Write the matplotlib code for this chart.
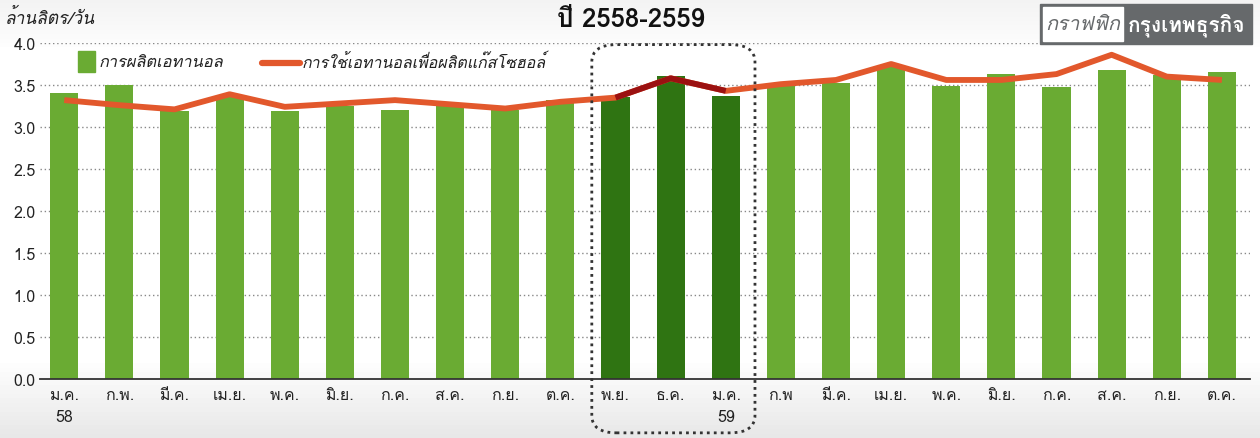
import numpy as np
import matplotlib
matplotlib.use("Agg")
import matplotlib.pyplot as plt
from matplotlib import font_manager as fm
from matplotlib.patches import FancyBboxPatch, Rectangle
import matplotlib.transforms as mtransforms

# ---------------- data ----------------
months = ["ม.ค.\n58", "ก.พ.", "มี.ค.", "เม.ย.", "พ.ค.", "มิ.ย.", "ก.ค.", "ส.ค.", "ก.ย.", "ต.ค.",
          "พ.ย.", "ธ.ค.", "ม.ค.\n59", "ก.พ", "มี.ค.", "เม.ย.", "พ.ค.", "มิ.ย.", "ก.ค.", "ส.ค.",
          "ก.ย.", "ต.ค."]
production = [3.40, 3.50, 3.19, 3.36, 3.19, 3.25, 3.20, 3.26, 3.20, 3.32,
              3.36, 3.61, 3.37, 3.52, 3.52, 3.71, 3.49, 3.63, 3.48, 3.68,
              3.62, 3.65]
usage = [3.32, 3.26, 3.21, 3.39, 3.24, 3.28, 3.32, 3.27, 3.22, 3.30,
         3.35, 3.58, 3.43, 3.51, 3.56, 3.75, 3.56, 3.56, 3.63, 3.86,
         3.60, 3.56]
highlight = [10, 11, 12]
yticks = [0.0, 0.5, 1.0, 1.5, 2.0, 2.5, 3.0, 3.5, 4.0]
title = "ปี 2558-2559"
ylabel = "ล้านลิตร/วัน"
legend_prod = "การผลิตเอทานอล"
legend_use = "การใช้เอทานอลเพื่อผลิตแก๊สโซฮอล์"
logo_left = "กราฟฟิก"
logo_right = "กรุงเทพธุรกิจ"

# ---------------- fonts ----------------
def find_thai_font():
    try:
        from fontTools.ttLib import TTFont
    except Exception:
        return None
    for f in fm.fontManager.ttflist:
        try:
            tt = TTFont(f.fname, fontNumber=0, lazy=True)
            cmap = tt.getBestCmap()
            if cmap and 0x0E01 in cmap and 0x0E49 in cmap and 0x0E17 in cmap:
                return f.name
        except Exception:
            continue
    return None

thai = find_thai_font()
fams = ([thai] if thai else []) + ["DejaVu Sans"]
plt.rcParams["font.family"] = fams

LIGHT = "#6aab33"
DARK = "#2f7412"
ORANGE = "#e2582c"
DRED = "#9b1111"

fig = plt.figure(figsize=(12.6, 4.39), dpi=100)

# background gradient (light grey at top, white in the middle, grey at bottom)
bg = fig.add_axes([0, 0, 1, 1], zorder=-10)
grad = np.concatenate([np.linspace(0.955, 1.0, 12), np.ones(70), np.linspace(1.0, 0.91, 18)])
img = np.dstack([grad[:, None].repeat(2, axis=1)] * 3)
bg.imshow(img, aspect="auto", extent=[0, 1, 0, 1], origin="upper")
bg.set_axis_off()

ax = fig.add_axes([40 / 1260, 1 - 380 / 439, 1210 / 1260, 336 / 439])
ax.patch.set_alpha(0)

x = np.arange(len(months))
colors = [DARK if i in highlight else LIGHT for i in x]
ax.bar(x, production, width=0.51, color=colors, zorder=2)
ax.plot(x, usage, color=ORANGE, lw=4.2, zorder=3, solid_capstyle="butt")
hx = np.array(highlight)
ax.plot(hx, np.array(usage)[hx], color=DRED, lw=4.2, zorder=4, solid_capstyle="butt")

ax.set_xlim(-0.44, 21.51)
ax.set_ylim(0, 4.0)
ax.set_yticks(yticks)
ax.set_yticklabels([f"{v:.1f}" for v in yticks], fontsize=11.5, color="#222222")
ax.set_xticks(x)
ax.set_xticklabels(months, fontsize=11.5, color="#222222", linespacing=1.5)
ax.tick_params(axis="both", length=0, pad=3)
ax.tick_params(axis="x", pad=6)
for s in ["top", "right", "left"]:
    ax.spines[s].set_visible(False)
ax.spines["bottom"].set_color("#333333")
ax.spines["bottom"].set_linewidth(1.3)
ax.spines["bottom"].set_zorder(5)
for v in yticks[1:]:
    ax.axhline(v, color="#888888", lw=1.0, ls=(0, (1, 2)), zorder=1)

# highlight box
trans = mtransforms.blended_transform_factory(ax.transData, ax.transAxes)
box = FancyBboxPatch((9.92, -0.12), 2.26, 1.075,
                     boxstyle="round,pad=0.35,rounding_size=0.45",
                     mutation_aspect=0.115,
                     transform=trans, fill=False, ec="#333333", lw=2.0,
                     ls=(0, (1, 1.5)), clip_on=False, zorder=6)
ax.add_patch(box)

# legend
fig.patches.append(Rectangle((78 / 1260, 1 - 73 / 439), 17 / 1260, 21 / 439,
                             transform=fig.transFigure, color=LIGHT, zorder=10))
fig.text(99 / 1260, 1 - 63 / 439, legend_prod, fontsize=11.8, style="italic",
         color="#222222", va="center", ha="left")
fig.lines.append(plt.Line2D([262 / 1260, 300 / 1260], [1 - 64 / 439, 1 - 64 / 439],
                            transform=fig.transFigure, color=ORANGE, lw=4.5,
                            solid_capstyle="round"))
fig.text(302 / 1260, 1 - 63 / 439, legend_use, fontsize=11.5, style="italic",
         color="#222222", va="center", ha="left")

# title and y-label
fig.text(631 / 1260, 1 - 20 / 439, title, fontsize=18.5, fontweight="bold",
         color="#111111", ha="center", va="center")
fig.text(5 / 1260, 1 - 18 / 439, ylabel, fontsize=12.5, style="italic",
         color="#222222", ha="left", va="center")

# logo
fig.patches.append(Rectangle((1040 / 1260, 1 - 45 / 439), 212 / 1260, 40 / 439,
                             transform=fig.transFigure, color="#66696b", zorder=10))
fig.patches.append(Rectangle((1043 / 1260, 1 - 42 / 439), 80 / 1260, 34 / 439,
                             transform=fig.transFigure, color="white", zorder=11))
fig.text(1083 / 1260, 1 - 25 / 439, logo_left, fontsize=14.5, style="italic",
         color="#66696b", ha="center", va="center", zorder=12)
fig.text(1187 / 1260, 1 - 25 / 439, logo_right, fontsize=15, fontweight="bold",
         color="white", ha="center", va="center", zorder=12)

fig.savefig("out.png", dpi=100)
